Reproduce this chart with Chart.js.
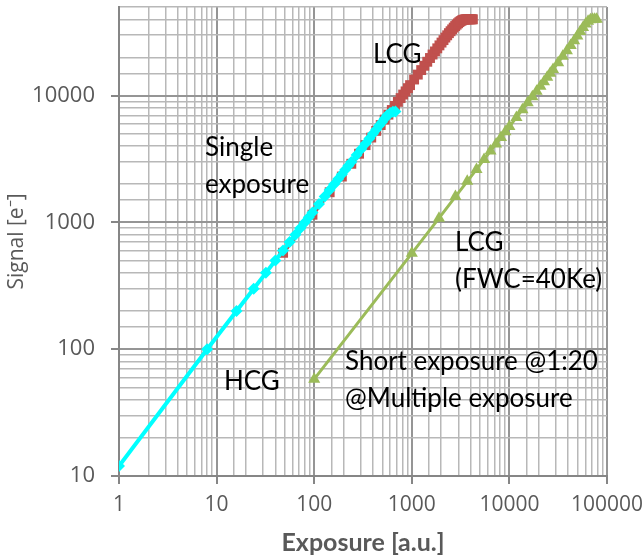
<!DOCTYPE html>
<html>
<head>
<meta charset="utf-8">
<script src="https://cdn.jsdelivr.net/npm/chart.js@4.4.0/dist/chart.umd.min.js"></script>
<style>
  html, body { margin: 0; padding: 0; background: #fff; }
  #wrap { width: 642px; height: 558px; }
</style>
</head>
<body>
<div id="wrap"><canvas id="chart"></canvas></div>
<script>
// HCG single exposure (cyan diamonds)
const hcgExposure = [1, 8, 16, 24, 32, 40, 48, 56, 64, 72, 80, 88, 96, 112, 128, 144, 160, 176, 192, 208, 224, 240, 272, 304, 336, 368, 400, 432, 464, 496, 528, 560, 600, 640, 680];
const hcgSignal = [12, 100, 200, 300, 400, 500, 600, 700, 800, 900, 1000, 1100, 1200, 1400, 1600, 1800, 2000, 2200, 2400, 2600, 2800, 3000, 3400, 3800, 4200, 4600, 5000, 5400, 5800, 6200, 6600, 7000, 7300, 7450, 7500];

// LCG single exposure (red squares), saturates at FWC 40Ke
const lcgExposure = [48, 96, 144, 192, 240, 288, 336, 384, 432, 480, 528, 576, 624, 672, 720, 768, 816, 864, 912, 960, 1056, 1152, 1248, 1344, 1440, 1536, 1632, 1728, 1824, 1920, 2016, 2112, 2208, 2304, 2400, 2496, 2592, 2688, 2784, 2880, 2976, 3072, 3168, 3264, 3360, 3456, 3552, 3648, 3744, 3840, 3936, 4032, 4128, 4224];
const lcgSignal = [576, 1150, 1730, 2300, 2900, 3480, 4070, 4670, 5270, 5860, 6470, 7080, 7700, 8300, 8930, 9560, 10200, 10800, 11450, 12100, 13400, 14650, 15900, 17200, 18500, 19800, 21100, 22300, 23600, 24900, 26200, 27400, 28700, 29900, 31100, 32200, 33300, 34400, 35400, 36300, 37200, 38000, 38700, 39200, 39600, 39850, 40000, 40000, 40000, 40000, 40000, 40000, 40000, 40000];

// LCG short exposure @1:20 (green triangles)
const shortExposure = [100, 1000, 1900, 2800, 3700, 4600, 5500, 6400, 7300, 8200, 9100, 10000, 11800, 13600, 15400, 17200, 19000, 20800, 22600, 24400, 26200, 28000, 31600, 35200, 38800, 42400, 46000, 49600, 53200, 56800, 60400, 64000, 67600, 71200, 74800, 78400];
const shortSignal = [58, 570, 1080, 1600, 2110, 2620, 3140, 3650, 4160, 4670, 5190, 5700, 6730, 7750, 8780, 9800, 10830, 11860, 12880, 13950, 15000, 16100, 18200, 20400, 22600, 24800, 27100, 29500, 32000, 34500, 36800, 38600, 39600, 40000, 40000, 40000];

const xTickValues = [1, 10, 100, 1000, 10000, 100000];
const yTickValues = [10, 100, 1000, 10000];

const notes = [
    { lines: ['LCG'], x: 373, y: 55 },
    { lines: ['Single', 'exposure'], x: 205, y: 148 },
    { lines: ['LCG', '(FWC=40Ke)'], x: 455, y: 243 },
    { lines: ['Short exposure @1:20', '@Multiple exposure'], x: 345, y: 362 },
    { lines: ['HCG'], x: 224, y: 382 }
];

function toPoints(xs, ys) {
    return xs.map((x, i) => ({ x: x, y: ys[i] }));
}

function isDecade(v) {
    return Math.abs(Math.log10(v) - Math.round(Math.log10(v))) < 1e-9;
}

const gridStyle = {
    color: ctx => (ctx.tick && isDecade(ctx.tick.value)) ? '#959595' : '#b8b8b8',
    lineWidth: ctx => (ctx.tick && isDecade(ctx.tick.value)) ? 2 : 1.5,
    tickColor: ctx => (ctx.tick && isDecade(ctx.tick.value)) ? '#868686' : 'rgba(0,0,0,0)',
    tickLength: 8,
    drawTicks: true
};

const notesPlugin = {
    id: 'notes',
    afterDatasetsDraw(chart) {
        const c = chart.ctx;
        c.save();
        c.fillStyle = '#000';
        c.font = '26px Lato';
        c.textAlign = 'left';
        c.textBaseline = 'middle';
        notes.forEach(n => {
            n.lines.forEach((t, i) => c.fillText(t, n.x, n.y + i * 37));
        });
        c.restore();
    }
};

new Chart(document.getElementById('chart'), {
    type: 'scatter',
    data: {
        datasets: [
            {
                label: 'HCG',
                data: toPoints(hcgExposure, hcgSignal),
                showLine: true,
                borderColor: '#00ffff',
                backgroundColor: '#00ffff',
                borderWidth: 4,
                pointStyle: 'rectRot',
                pointRadius: 6,
                pointBorderWidth: 0
            },
            {
                label: 'LCG',
                data: toPoints(lcgExposure, lcgSignal),
                showLine: true,
                borderColor: '#c0504d',
                backgroundColor: '#c0504d',
                borderWidth: 4,
                pointStyle: 'rect',
                pointRadius: 7,
                pointBorderWidth: 0
            },
            {
                label: 'Short exposure',
                data: toPoints(shortExposure, shortSignal),
                showLine: true,
                borderColor: '#9bbb59',
                backgroundColor: '#9bbb59',
                borderWidth: 3,
                pointStyle: 'triangle',
                pointRadius: 7,
                pointBorderWidth: 0
            }
        ]
    },
    options: {
        responsive: true,
        maintainAspectRatio: false,
        animation: false,
        layout: { padding: { top: 7, right: 35, left: 0, bottom: 0 } },
        plugins: {
            legend: { display: false },
            tooltip: { enabled: false }
        },
        scales: {
            x: {
                type: 'logarithmic',
                min: 1,
                max: 100000,
                afterFit: s => { s.height = 82; s.paddingLeft = 0; s.paddingRight = 0; },
                grid: gridStyle,
                border: { color: '#868686', width: 2 },
                ticks: {
                    autoSkip: false,
                    maxRotation: 0,
                    padding: 8,
                    color: '#595959',
                    font: { family: 'Open Sans', size: 21 },
                    callback: v => xTickValues.includes(v) ? String(v) : ''
                },
                title: {
                    display: true,
                    text: 'Exposure [a.u.]',
                    color: '#595959',
                    font: { family: 'Lato', size: 25, weight: 'bold' },
                    padding: { top: 0, bottom: 0 }
                }
            },
            y: {
                type: 'logarithmic',
                min: 10,
                max: 50000,
                afterFit: s => { s.width = 119; s.paddingTop = 0; s.paddingBottom = 0; },
                grid: gridStyle,
                border: { color: '#868686', width: 2 },
                ticks: {
                    autoSkip: false,
                    padding: 16,
                    color: '#595959',
                    font: { family: 'Open Sans', size: 22 },
                    callback: v => yTickValues.includes(v) ? String(v) : ''
                },
                title: {
                    display: true,
                    text: 'Signal [e\u207B]',
                    color: '#595959',
                    font: { family: 'Open Sans', size: 21 },
                    padding: { top: 4, bottom: 0 }
                }
            }
        }
    },
    plugins: [notesPlugin]
});
</script>
</body>
</html>
